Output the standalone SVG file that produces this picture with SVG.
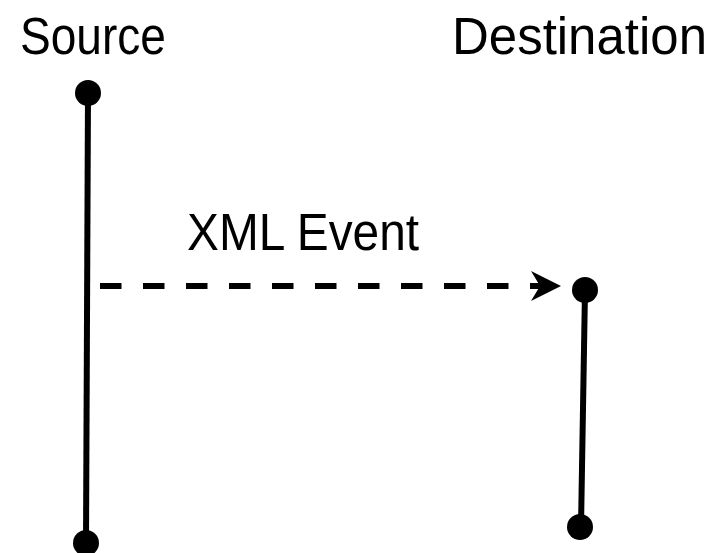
<svg xmlns="http://www.w3.org/2000/svg" width="719" height="553" viewBox="0 0 719 553">
  <style>
    .label { font-family: "Liberation Sans", Arial, sans-serif; font-size: 51px; fill: #000; }
    .life { stroke: #000; stroke-width: 6; fill: none; }
    .dot { fill: #000; }
    .msg { stroke: #000; stroke-width: 6; stroke-dasharray: 21.5 21.5; fill: none; }
  </style>
  <defs>
    <marker id="arrow" markerUnits="userSpaceOnUse" markerWidth="32" markerHeight="32" refX="30" refY="15" orient="auto" viewBox="0 0 32 32">
      <path d="M30,15 L0,0 L9,15 L0,30 Z" fill="#000"/>
    </marker>
  </defs>
  <g id="source">
    <text class="label" x="20" y="54" textLength="146" lengthAdjust="spacingAndGlyphs">Source</text>
    <line class="life" x1="88" y1="93" x2="86" y2="543"/>
    <circle class="dot" cx="88" cy="93" r="13"/>
    <circle class="dot" cx="86" cy="543" r="13"/>
  </g>
  <g id="destination">
    <text class="label" x="452" y="54" textLength="255" lengthAdjust="spacingAndGlyphs">Destination</text>
    <line class="life" x1="585" y1="290" x2="581" y2="527"/>
    <circle class="dot" cx="585" cy="290" r="13"/>
    <circle class="dot" cx="580" cy="527" r="13"/>
  </g>
  <g id="connectors">
    <line class="msg" x1="100" y1="286" x2="561" y2="286" marker-end="url(#arrow)"/>
    <text class="label" x="187" y="250" textLength="232" lengthAdjust="spacingAndGlyphs">XML Event</text>
  </g>
</svg>
